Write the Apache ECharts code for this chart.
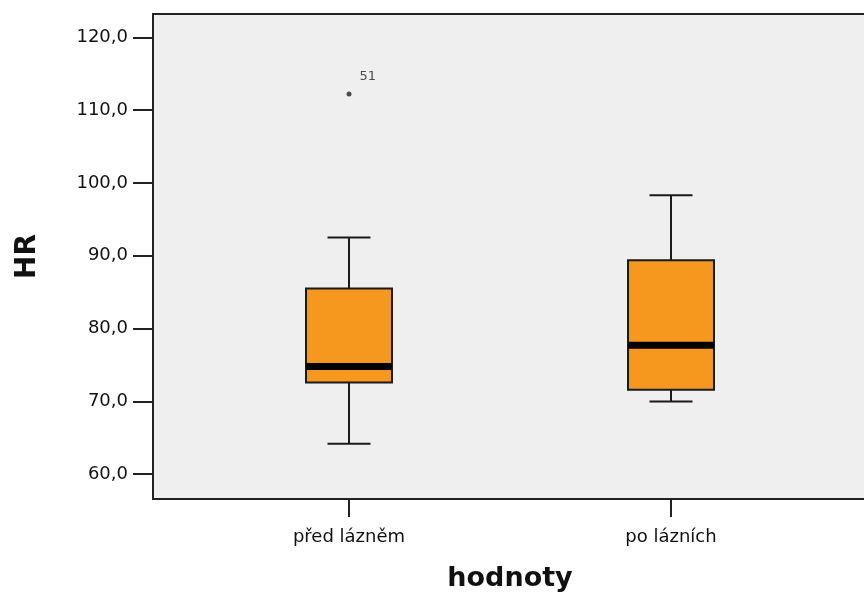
<!DOCTYPE html>
<html>
<head>
<meta charset="utf-8">
<script src="https://cdn.jsdelivr.net/npm/echarts@6/dist/echarts.min.js"></script>
<style>html,body{margin:0;padding:0;background:#fff}#c{width:864px;height:595px}</style>
</head>
<body>
<div id="c"></div>
<script>
const categories = ['před lázněm', 'po lázních'];
const whiskerLow = [64.2, 70.0];
const quartile1 = [72.6, 71.6];
const medians = [74.8, 77.7];
const quartile3 = [85.5, 89.4];
const whiskerHigh = [92.5, 98.3];
const outlierCategory = [0];
const outlierValues = [112.2];
const outlierLabels = ['51'];
const yTicks = [60, 70, 80, 90, 100, 110, 120];

const boxData = categories.map((c, i) => [i, whiskerLow[i], quartile1[i], medians[i], quartile3[i], whiskerHigh[i]]);
const outlierData = outlierValues.map((v, i) => ({ value: [outlierCategory[i], v], name: outlierLabels[i] }));

const FONT = 'DejaVu Sans';
const chart = echarts.init(document.getElementById('c'));

function renderBox(params, api) {
  const idx = api.value(0);
  const low = api.coord([idx, api.value(1)]);
  const q1 = api.coord([idx, api.value(2)]);
  const med = api.coord([idx, api.value(3)]);
  const q3 = api.coord([idx, api.value(4)]);
  const high = api.coord([idx, api.value(5)]);
  const band = api.size([1, 0])[0];
  const bw = band * 0.267;
  const cw = bw / 2;
  const x = low[0];
  const lineStyle = { stroke: '#1a1a1a', lineWidth: 2 };
  return {
    type: 'group',
    children: [
      { type: 'line', shape: { x1: x, y1: high[1], x2: x, y2: q3[1] }, style: lineStyle },
      { type: 'line', shape: { x1: x, y1: q1[1], x2: x, y2: low[1] }, style: lineStyle },
      { type: 'line', shape: { x1: x - cw / 2, y1: high[1], x2: x + cw / 2, y2: high[1] }, style: lineStyle },
      { type: 'line', shape: { x1: x - cw / 2, y1: low[1], x2: x + cw / 2, y2: low[1] }, style: lineStyle },
      { type: 'rect', shape: { x: x - bw / 2, y: q3[1], width: bw, height: q1[1] - q3[1] },
        style: { fill: '#f7981e', stroke: '#1a1a1a', lineWidth: 2 } },
      { type: 'line', shape: { x1: x - bw / 2, y1: med[1], x2: x + bw / 2, y2: med[1] },
        style: { stroke: '#000', lineWidth: 7 } }
    ]
  };
}

const option = {
  backgroundColor: '#ffffff',
  animation: false,
  grid: [
    { left: 153, top: 14, width: 760, bottom: 96, show: true, backgroundColor: '#efefef', borderColor: '#222', borderWidth: 2, z: 0, outerBoundsMode: 'none', containLabel: false },
    { left: 188, top: 14, width: 644, bottom: 96, outerBoundsMode: 'none', containLabel: false }
  ],
  xAxis: [
    { gridIndex: 0, type: 'value', show: false, min: 0, max: 1 },
    {
      gridIndex: 1, type: 'category', data: categories,
      axisLine: { show: false },
      axisTick: { show: true, alignWithLabel: true, length: 18, lineStyle: { color: '#222', width: 2 } },
      axisLabel: { margin: 29, color: '#111', fontFamily: FONT, fontSize: 18 },
      name: 'hodnoty', nameLocation: 'middle', nameGap: 66,
      nameTextStyle: { fontFamily: FONT, fontWeight: 'bold', fontSize: 27, color: '#111' },
      splitLine: { show: false }
    }
  ],
  yAxis: [
    {
      gridIndex: 0, type: 'value', min: 56.6, max: 123.2,
      axisLine: { show: true, lineStyle: { color: '#222', width: 2 } },
      axisTick: { show: true, length: 20, customValues: yTicks, lineStyle: { color: '#222', width: 2 } },
      axisLabel: { margin: 25, customValues: yTicks, color: '#111', fontFamily: FONT, fontSize: 18,
        formatter: v => v.toFixed(1).replace('.', ',') },
      splitLine: { show: false },
      name: 'HR', nameLocation: 'middle', nameGap: 111,
      nameTextStyle: { fontFamily: FONT, fontWeight: 'bold', fontSize: 28, color: '#111' }
    },
    { gridIndex: 1, type: 'value', min: 56.6, max: 123.2, show: false, splitLine: { show: false } }
  ],
  series: [
    {
      type: 'custom', xAxisIndex: 1, yAxisIndex: 1, renderItem: renderBox,
      data: boxData, encode: { x: 0, y: [1, 2, 3, 4, 5] }, z: 5
    },
    {
      type: 'scatter', xAxisIndex: 1, yAxisIndex: 1, data: outlierData,
      symbol: 'circle', symbolSize: 5,
      itemStyle: { color: '#222' },
      label: { show: true, formatter: p => p.name, position: 'right', distance: 8, offset: [0, -17],
        fontFamily: FONT, fontSize: 13, color: '#222' },
      z: 6
    }
  ]
};
chart.setOption(option);
</script>
</body>
</html>
